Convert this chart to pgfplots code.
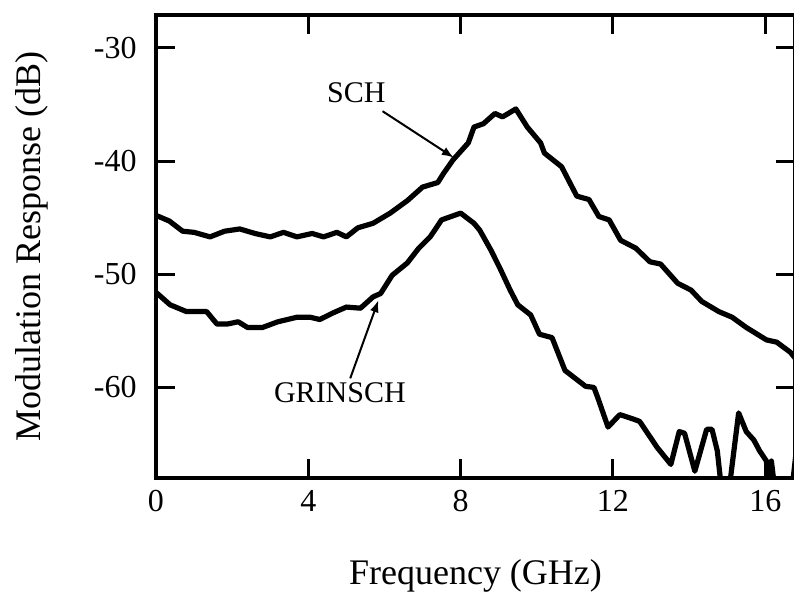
\documentclass[border=0pt]{standalone}
\usepackage{fontspec}
\setmainfont{Liberation Serif}
\usepackage{pgfplots}
\pgfplotsset{compat=1.18}
\usetikzlibrary{arrows.meta}

\begin{document}
\begin{tikzpicture}
\useasboundingbox (-78pt,-58.5pt) rectangle (319pt,239pt);
\begin{axis}[
  at={(0,0)}, anchor=south west,
  scale only axis,
  width=319.5pt, height=231.5pt,
  xmin=0, xmax=16.78,
  ymin=-68, ymax=-27.1,
  xtick={0,4,8,12,16},
  ytick={-30,-40,-50,-60},
  tick align=inside,
  xtick pos=both, ytick pos=both,
  xticklabel pos=lower, yticklabel pos=left,
  major tick length=9.5pt,
  every tick/.style={line width=1.5pt, black},
  axis line style={line width=2pt},
  /pgf/number format/assume math mode=true,
  tick label style={font=\fontsize{16}{19}\selectfont},
  xticklabel style={anchor=base, inner sep=0pt, yshift=-17pt},
  yticklabel style={anchor=east, inner sep=0pt, xshift=-9.5pt},
  xlabel={Frequency (GHz)},
  ylabel={Modulation Response (dB)},
  label style={font=\fontsize{18}{21}\selectfont},
  xlabel style={at={(axis description cs:0.5,-0.229)}, anchor=base},
  ylabel style={at={(axis description cs:-0.194,0.5)}, anchor=center},
]
% SCH
\addplot [black, line width=2.6pt, line join=round] coordinates {
(0.0,-44.8) (0.35,-45.3) (0.7,-46.2) (1.0,-46.3) (1.42,-46.7) (1.8,-46.2)
(2.2,-46.0) (2.6,-46.4) (3.0,-46.7) (3.35,-46.3) (3.7,-46.7) (4.1,-46.4)
(4.4,-46.7) (4.75,-46.3) (5.0,-46.7) (5.3,-45.9) (5.7,-45.5) (6.15,-44.6)
(6.6,-43.5) (7.0,-42.3) (7.4,-41.9) (7.55,-41.1) (7.8,-39.9) (8.2,-38.4)
(8.35,-37.0) (8.6,-36.7) (8.9,-35.8) (9.1,-36.1) (9.45,-35.4) (9.75,-37.0)
(10.1,-38.4) (10.2,-39.3) (10.65,-40.5) (11.05,-43.1) (11.37,-43.4)
(11.63,-44.9) (11.9,-45.2) (12.2,-47.0) (12.6,-47.7) (12.97,-48.9)
(13.25,-49.1) (13.7,-50.8) (14.05,-51.4) (14.33,-52.4) (14.78,-53.3)
(15.13,-53.8) (15.5,-54.7) (16.03,-55.8) (16.3,-56.0) (16.66,-56.9)
(16.95,-58.1)
};
% GRINSCH
\addplot [black, line width=2.6pt, line join=round] coordinates {
(0.0,-51.6) (0.37,-52.7) (0.8,-53.3) (1.33,-53.3) (1.6,-54.4) (1.87,-54.4)
(2.16,-54.2) (2.4,-54.7) (2.8,-54.7) (3.2,-54.2) (3.7,-53.8) (4.05,-53.8)
(4.3,-54.0) (4.66,-53.4) (5.0,-52.9) (5.37,-53.0) (5.7,-52.0) (5.9,-51.7)
(6.2,-50.1) (6.6,-49.0) (6.9,-47.7) (7.2,-46.7) (7.5,-45.2) (8.0,-44.6)
(8.35,-45.5) (8.5,-46.1) (8.8,-47.9) (9.05,-49.6) (9.3,-51.4) (9.5,-52.7)
(9.84,-53.6) (10.07,-55.3) (10.4,-55.6) (10.74,-58.5) (11.28,-59.9)
(11.5,-60.0) (11.6,-60.9) (11.87,-63.5) (12.18,-62.4) (12.54,-62.8)
(12.7,-63.0) (13.16,-65.3) (13.52,-66.8) (13.74,-63.9) (13.88,-64.05)
(14.15,-67.4) (14.46,-63.7) (14.6,-63.7) (14.74,-65.6) (14.85,-69)
(15.05,-69) (15.3,-62.25) (15.5,-63.9) (15.7,-64.65) (15.85,-65.6)
(16.03,-66.5) (16.08,-69) (16.16,-66.5) (16.25,-69) (16.7,-69) (16.85,-64.5)
};
\node [font=\fontsize{15}{18}\selectfont] at (axis cs:5.26,-34.0) {SCH};
\node [font=\fontsize{15}{18}\selectfont] at (axis cs:4.83,-60.5) {GRINSCH};
\draw [line width=1pt, -{Latex[length=6pt,width=4.5pt]}]
  (axis cs:5.95,-35.6) -- (axis cs:7.82,-39.7);
\draw [line width=1pt, -{Latex[length=6pt,width=4.5pt]}]
  (axis cs:5.1,-59.2) -- (axis cs:5.84,-52.3);
\end{axis}
\end{tikzpicture}
\end{document}
